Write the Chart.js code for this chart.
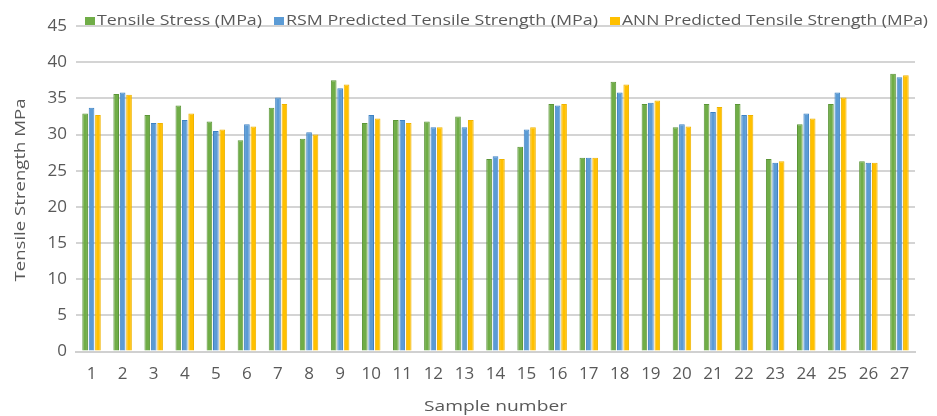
<!DOCTYPE html>
<html>
<head>
<meta charset="utf-8">
<script src="https://cdn.jsdelivr.net/npm/chart.js@4.4.1/dist/chart.umd.min.js"></script>
<style>
  html, body { margin: 0; padding: 0; background: #ffffff; }
  #wrap { width: 937px; height: 416px; position: relative; }
</style>
</head>
<body>
<div id="wrap"><canvas id="chart" width="937" height="416"></canvas></div>
<script>
// Sample numbers along the x axis
const samples = ['1','2','3','4','5','6','7','8','9','10','11','12','13','14','15','16','17','18','19','20','21','22','23','24','25','26','27'];

// Measured tensile stress (MPa)
const tensileStress = [32.9, 35.6, 32.7, 34.0, 31.8, 29.2, 33.7, 29.4, 37.5, 31.6, 32.0, 31.8, 32.5, 26.6, 28.3, 34.2, 26.8, 37.3, 34.2, 31.0, 34.2, 34.2, 26.6, 31.4, 34.2, 26.3, 38.4];

// RSM model prediction (MPa)
const rsmPredicted = [33.7, 35.8, 31.6, 32.0, 30.5, 31.4, 35.1, 30.3, 36.4, 32.7, 32.0, 31.0, 31.0, 27.0, 30.7, 34.0, 26.8, 35.8, 34.4, 31.4, 33.1, 32.7, 26.1, 32.9, 35.8, 26.1, 37.9];

// ANN model prediction (MPa)
const annPredicted = [32.7, 35.5, 31.6, 32.9, 30.7, 31.1, 34.2, 30.0, 36.9, 32.2, 31.6, 31.0, 32.0, 26.6, 31.0, 34.2, 26.8, 36.9, 34.7, 31.1, 33.8, 32.7, 26.3, 32.2, 35.1, 26.1, 38.2];

// Y axis ticks
const yTicks = [0, 5, 10, 15, 20, 25, 30, 35, 40, 45];

const seriesNames = [
  'Tensile Stress (MPa)',
  'RSM Predicted Tensile Strength (MPa)',
  'ANN Predicted Tensile Strength (MPa)'
];
const xTitle = 'Sample number';
const yTitle = 'Tensile Strength MPa';

const FONT = "'Open Sans', 'DejaVu Sans', sans-serif";
const TEXT = '#595959';

// Legend entry text widths in px (wide lettering with a small cap height)
const legendTextWidths = [165, 312, 306];

// Draws a string squeezed or stretched horizontally to a given width
function fittedText(ctx, str, x, y, width, align) {
  const stretch = width / ctx.measureText(str).width;
  const left = align === 'center' ? x - width / 2 : x;
  ctx.save();
  ctx.translate(left, y);
  ctx.scale(stretch, 1);
  ctx.textAlign = 'left';
  ctx.fillText(str, 0, 0);
  ctx.restore();
  return width;
}

// Legend in one row across the top of the plot, plus the two axis titles
const chartText = {
  id: 'chartText',
  afterDraw(chart) {
    const ctx = chart.ctx;
    const area = chart.chartArea;
    ctx.save();
    ctx.font = '14px ' + FONT;
    ctx.textBaseline = 'middle';
    let x = 85;
    const y = 21;
    chart.data.datasets.forEach((ds, i) => {
      ctx.fillStyle = ds.backgroundColor;
      ctx.fillRect(x, y - 4, 10, 8);
      x += 12;
      ctx.fillStyle = TEXT;
      x += fittedText(ctx, ds.label, x, y, legendTextWidths[i], 'left') + 12;
    });

    // x axis title
    ctx.textBaseline = 'alphabetic';
    fittedText(ctx, xTitle, (area.left + area.right) / 2, 411, 143, 'center');

    // y axis title, rotated
    ctx.save();
    ctx.translate(25, 190);
    ctx.rotate(-Math.PI / 2);
    fittedText(ctx, yTitle, 0, 0, 183, 'center');
    ctx.restore();

    ctx.restore();
  }
};

new Chart(document.getElementById('chart'), {
  type: 'bar',
  data: {
    labels: samples,
    datasets: [
      { label: seriesNames[0], data: tensileStress, backgroundColor: '#70AD47', borderColor: '#5B9637', borderWidth: 1 },
      { label: seriesNames[1], data: rsmPredicted, backgroundColor: '#5B9BD5', borderColor: '#3E82C4', borderWidth: 1 },
      { label: seriesNames[2], data: annPredicted, backgroundColor: '#FFC000', borderColor: '#F0B400', borderWidth: 1 }
    ]
  },
  options: {
    responsive: false,
    animation: false,
    layout: { padding: { left: 0, right: 22, top: 26, bottom: 0 } },
    datasets: { bar: { categoryPercentage: 0.62, barPercentage: 0.88 } },
    plugins: {
      legend: { display: false },
      tooltip: { enabled: false }
    },
    scales: {
      x: {
        grid: { display: false, drawTicks: false },
        border: { display: true, color: '#d0d0d0', width: 2 },
        ticks: { color: TEXT, font: { family: FONT, size: 17 }, padding: 12, maxRotation: 0, autoSkip: false },
        afterFit(scale) { scale.height = 64.5; }
      },
      y: {
        min: 0,
        max: 45,
        afterBuildTicks(scale) { scale.ticks = yTicks.map(v => ({ value: v })); },
        grid: { color: '#d4d4d4', lineWidth: 2, drawTicks: false },
        border: { display: false },
        ticks: { color: TEXT, font: { family: FONT, size: 17 }, padding: 9 },
        afterFit(scale) { scale.width = 76; }
      }
    }
  },
  plugins: [chartText]
});
</script>
</body>
</html>
